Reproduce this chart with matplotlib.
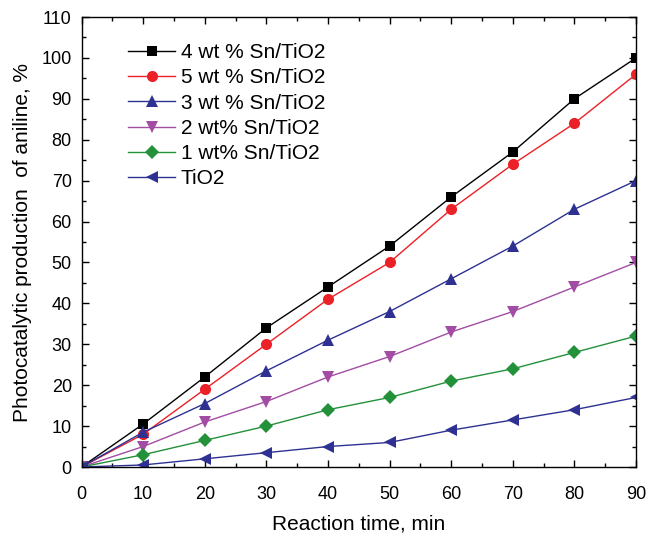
import matplotlib
matplotlib.use("Agg")
import matplotlib.pyplot as plt
from matplotlib.ticker import MultipleLocator

plt.rcParams['font.family'] = ['Liberation Sans', 'DejaVu Sans']

time = [0, 10, 20, 30, 40, 50, 60, 70, 80, 90]
sn4 = [0, 10.5, 22, 34, 44, 54, 66, 77, 90, 100]
sn5 = [0, 8, 19, 30, 41, 50, 63, 74, 84, 96]
sn3 = [0, 8.5, 15.5, 23.5, 31, 38, 46, 54, 63, 70]
sn2 = [0, 5, 11, 16, 22, 27, 33, 38, 44, 50]
sn1 = [0, 3, 6.5, 10, 14, 17, 21, 24, 28, 32]
tio2 = [0, 0.5, 2, 3.5, 5, 6, 9, 11.5, 14, 17]

labels = ["4 wt % Sn/TiO2", "5 wt % Sn/TiO2", "3 wt % Sn/TiO2",
          "2 wt% Sn/TiO2", "1 wt% Sn/TiO2", "TiO2"]

series = [sn4, sn5, sn3, sn2, sn1, tio2]
colors = ['#000000', '#ec2027', '#2e3192', '#a24ca3', '#23903a', '#2e3192']
markers = ['s', 'o', '^', 'v', 'D', '<']
msizes = [7, 8, 9, 9, 7.5, 9]

fig = plt.figure(figsize=(6.51, 5.38), dpi=100)
ax = fig.add_axes([81.5 / 651, (538 - 467) / 538, (636 - 81.5) / 651, (467 - 17) / 538])

for y, c, m, ms, lab in zip(series, colors, markers, msizes, labels):
    ax.plot(time, y, color=c, marker=m, markersize=ms, linewidth=1.0,
            markeredgewidth=0, label=lab)

ax.set_xlim(0, 90)
ax.set_ylim(0, 110)
ax.xaxis.set_major_locator(MultipleLocator(10))
ax.xaxis.set_minor_locator(MultipleLocator(5))
ax.yaxis.set_major_locator(MultipleLocator(10))
ax.yaxis.set_minor_locator(MultipleLocator(5))
ax.tick_params(which='both', direction='in', top=True, right=True, labelsize=13)
ax.tick_params(which='major', length=5, width=1)
ax.tick_params(which='minor', length=3, width=1)
ax.tick_params(axis='x', which='major', pad=14)
ax.tick_params(axis='y', which='major', pad=7)
for s in ax.spines.values():
    s.set_linewidth(1.0)

ax.set_xlabel("Reaction time, min", fontsize=15, labelpad=8)
ax.set_ylabel("Photocatalytic production  of aniline, %", fontsize=15, labelpad=7)

ax.legend(loc='upper left', bbox_to_anchor=(0.084, 0.942), frameon=False,
          fontsize=15, handlelength=2.25, labelspacing=0.3, handletextpad=0.28,
          borderpad=0, borderaxespad=0)

fig.savefig("out.png", dpi=100)
